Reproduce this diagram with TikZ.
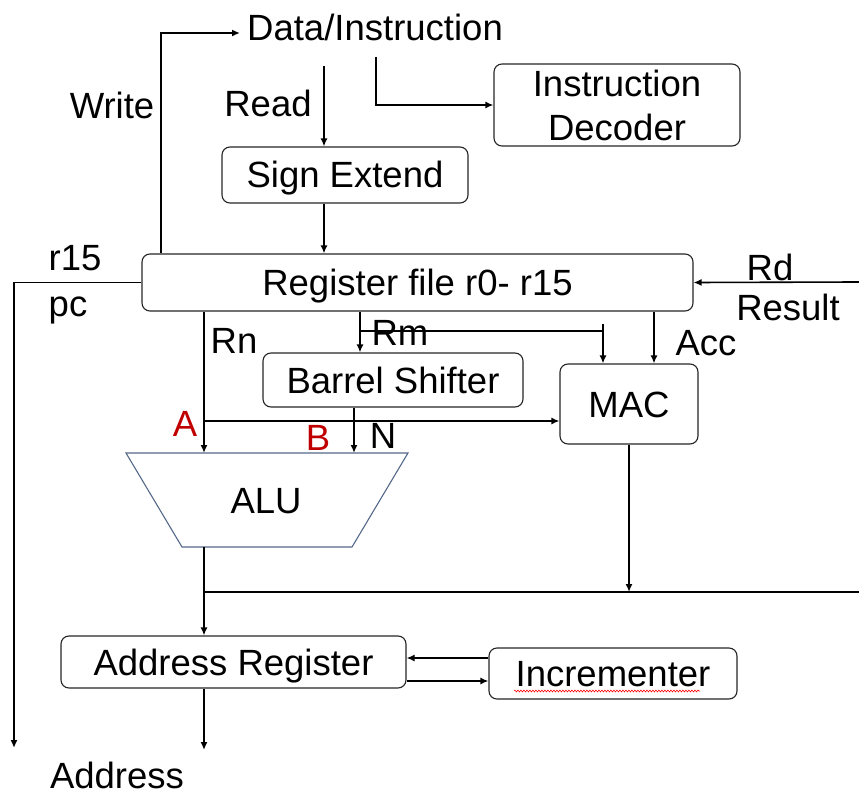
\documentclass[tikz,border=0pt]{standalone}
\usepackage{fontspec}
\setmainfont{Liberation Sans}
\usetikzlibrary{arrows.meta,decorations.pathmorphing}
\definecolor{alured}{RGB}{192,0,0}
\definecolor{aluedge}{RGB}{84,104,136}
\begin{document}
\begin{tikzpicture}[x=1pt,y=-1pt,
  every node/.style={font=\fontsize{36.5}{44}\selectfont},
  blk/.style={draw=black!85,line width=1.1pt,rounded corners=8pt,fill=white,inner sep=0pt},
  one/.style={text height=26pt,text depth=0pt},
  lbl/.style={inner sep=0pt},
  wire/.style={line width=1.6pt},
  arr/.style={wire,-{Latex[length=8pt,width=7pt]}}]
\useasboundingbox (0,0) rectangle (859,794);

% blocks
\node[blk,minimum width=246pt,minimum height=82pt,align=center] (decoder) at (617,105) {Instruction\\Decoder};
\node[blk,one,minimum width=246pt,minimum height=56pt] (signext) at (345,175) {Sign Extend};
\node[blk,one,minimum width=551pt,minimum height=57pt] (regfile) at (417.5,282.5) {Register file r0- r15};
\node[blk,one,minimum width=260pt,minimum height=54pt] (barrel) at (393,380) {Barrel Shifter};
\node[blk,one,minimum width=138pt,minimum height=80pt] (mac) at (629,404) {MAC};
\node[blk,one,minimum width=345pt,minimum height=52pt] (addr) at (233.5,662) {Address Register};
\node[blk,one,minimum width=248pt,minimum height=51pt] (incr) at (613,673.5) {Incrementer};
\draw[red,line width=0.6pt,decorate,decoration={snake,segment length=3pt,amplitude=0.9pt}] (514,691) -- (700,691);

% ALU trapezoid
\coordinate (alutl) at (126,453);
\coordinate (alutr) at (408,453);
\coordinate (alubr) at (352,547);
\coordinate (alubl) at (182,547);
\draw[aluedge,line width=1.1pt,fill=white] (alutl) -- (alutr) -- (alubr) -- (alubl) -- cycle;
\node[lbl,one] (alu) at (266,500) {ALU};

% texts
\node[lbl] (datai) at (375,27) {Data/Instruction};
\node[lbl] (write) at (112,105) {Write};
\node[lbl] (read) at (268,103) {Read};
\node[lbl] (r15) at (75,258) {r15};
\node[lbl] (pc) at (68,310) {pc};
\node[lbl] (rd) at (770,267) {Rd};
\node[lbl] (result) at (788,307) {Result};
\node[lbl] (rn) at (234,341) {Rn};
\node[lbl] (rm) at (400,333) {Rm};
\node[lbl] (acc) at (706,343) {Acc};
\node[lbl,text=alured] (la) at (185,424) {A};
\node[lbl,text=alured] (lb) at (318,438) {B};
\node[lbl] (ln) at (383,436) {N};
\node[lbl] (address) at (117,775) {Address};

% reference columns and rows
\coordinate (xW) at (161,0);
\coordinate (xR) at (324,0);
\coordinate (xA) at (204,0);
\coordinate (xRm) at (360,0);
\coordinate (xN) at (354,0);
\coordinate (xM) at (603,0);
\coordinate (xAcc) at (654,0);
\coordinate (yIn) at (0,658);
\coordinate (yOut) at (0,681);
\coordinate (wend) at (240,33);
\coordinate (readtop) at (324,66);
\coordinate (dectop) at (376,57);
\coordinate (rdin) at (859,282);
\coordinate (pcend) at (14,748);
\coordinate (abranch) at (204,421);
\coordinate (rmbus) at (360,331);
\coordinate (mtop) at (603,324);
\coordinate (bus) at (204,592);
\coordinate (busend) at (859,592);
\coordinate (aout) at (204,750);

% connectors
\draw[arr] (regfile.north -| xW) |- (wend);
\draw[arr] (readtop) -- (signext.north -| xR);
\draw[arr] (dectop) |- (decoder.west);
\draw[arr] (signext.south -| xR) -- (regfile.north -| xR);
\draw[arr] (regfile.west) -| (pcend);
\draw[arr] (rdin) -- (regfile.east);
\draw[arr] (regfile.south -| xA) -- (alutl -| xA);
\draw[arr] (regfile.south -| xRm) -- (barrel.north -| xRm);
\draw[wire] (rmbus) -- (rmbus -| xM);
\draw[arr] (mtop) -- (mac.north -| xM);
\draw[arr] (regfile.south -| xAcc) -- (mac.north -| xAcc);
\draw[arr] (abranch) -- (abranch -| mac.west);
\draw[arr] (barrel.south -| xN) -- (alutl -| xN);
\draw[arr] (alubl -| xA) -- (addr.north -| xA);
\draw[wire] (bus) -- (busend);
\draw[arr] (mac.south) -- (mac.south |- bus);
\draw[arr] (incr.west |- yIn) -- (addr.east |- yIn);
\draw[arr] (addr.east |- yOut) -- (incr.west |- yOut);
\draw[arr] (addr.south -| xA) -- (aout);
\end{tikzpicture}
\end{document}
